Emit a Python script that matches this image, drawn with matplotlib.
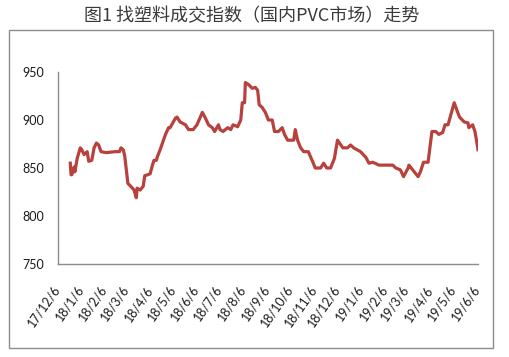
import matplotlib
matplotlib.use("Agg")
import matplotlib.pyplot as plt
import matplotlib.patches as patches
import matplotlib.transforms as mtransforms
import pandas as pd

plt.rcParams['font.family'] = ['Noto Sans CJK SC', 'DejaVu Sans']

# values (date, index)
dates = [
    "2017-12-22", "2017-12-23", "2017-12-24", "2017-12-27", "2017-12-28", "2017-12-31",
    "2018-01-04", "2018-01-06", "2018-01-09", "2018-01-13", "2018-01-15", "2018-01-19",
    "2018-01-22", "2018-01-25", "2018-01-28", "2018-01-31", "2018-02-07", "2018-02-18",
    "2018-02-24", "2018-02-26", "2018-03-01", "2018-03-03", "2018-03-05", "2018-03-07",
    "2018-03-13", "2018-03-15", "2018-03-18", "2018-03-19", "2018-03-23", "2018-03-27",
    "2018-03-29", "2018-04-02", "2018-04-05", "2018-04-08", "2018-04-10", "2018-04-13",
    "2018-04-15", "2018-04-18", "2018-04-21", "2018-04-25", "2018-04-29", "2018-05-01",
    "2018-05-08", "2018-05-10", "2018-05-14", "2018-05-21", "2018-05-25", "2018-05-31",
    "2018-06-05", "2018-06-12", "2018-06-16", "2018-06-20", "2018-06-25", "2018-06-28",
    "2018-07-03", "2018-07-05", "2018-07-09", "2018-07-15", "2018-07-19", "2018-07-22",
    "2018-07-28", "2018-08-01", "2018-08-03", "2018-08-06", "2018-08-07", "2018-08-11",
    "2018-08-16", "2018-08-20", "2018-08-23", "2018-08-25", "2018-08-29", "2018-09-02",
    "2018-09-06", "2018-09-11", "2018-09-14", "2018-09-19", "2018-09-24", "2018-09-27",
    "2018-10-01", "2018-10-09", "2018-10-11", "2018-10-14", "2018-10-18", "2018-10-22",
    "2018-10-28", "2018-11-03", "2018-11-06", "2018-11-13", "2018-11-17", "2018-11-21",
    "2018-11-26", "2018-12-01", "2018-12-05", "2018-12-12", "2018-12-18", "2018-12-22",
    "2018-12-26", "2019-01-04", "2019-01-11", "2019-01-15", "2019-01-20", "2019-01-28",
    "2019-02-15", "2019-02-19", "2019-02-25", "2019-03-01", "2019-03-07", "2019-03-08",
    "2019-03-13", "2019-03-20", "2019-03-23", "2019-03-27", "2019-04-02", "2019-04-07",
    "2019-04-12", "2019-04-16", "2019-04-21", "2019-04-24", "2019-04-28", "2019-05-06",
    "2019-05-11", "2019-05-13", "2019-05-19", "2019-05-24", "2019-05-25", "2019-05-30",
    "2019-06-02", "2019-06-04", "2019-06-06",
]
index = [
    855, 843, 843, 851, 846, 860,
    871, 869, 864, 867, 857, 858,
    871, 876, 874, 867, 866, 867,
    867, 871, 869, 862, 848, 834,
    829, 827, 819, 829, 827, 831,
    842, 843, 844, 853, 858, 858,
    863, 869, 876, 885, 892, 892,
    902, 903, 898, 895, 890, 890,
    895, 908, 902, 895, 892, 888,
    895, 890, 888, 892, 890, 895,
    893, 900, 918, 918, 939, 937,
    933, 934, 931, 916, 913, 908,
    900, 900, 888, 888, 892, 885,
    879, 879, 890, 879, 871, 867,
    867, 856, 850, 850, 855, 850,
    850, 860, 879, 871, 871, 874,
    871, 867, 861, 855, 856, 853,
    853, 850, 848, 841, 850, 853,
    848, 841, 846, 856, 856, 888,
    888, 885, 887, 895, 895, 918,
    907, 903, 898, 897, 892, 895,
    888, 879, 869,
]
yticks = [750, 800, 850, 900, 950]
title = "图1 找塑料成交指数（国内PVC市场）走势"

x = pd.to_datetime(dates)
ticks = pd.date_range("2017-12-06", periods=19, freq=pd.DateOffset(months=1))
tick_labels = [f"{d.year % 100}/{d.month}/{d.day}" for d in ticks]

fig = plt.figure(figsize=(5.1, 3.57), dpi=100)
ax = fig.add_axes([58 / 510, 1 - 264 / 357, 420 / 510, 192 / 357])

ax.plot(x, index, color="#B8413E", linewidth=2.3, solid_joinstyle="round")

ax.set_xlim(ticks[0], ticks[-1])
ax.set_ylim(750, 950)
ax.set_yticks(yticks)
ax.set_xticks(ticks)
ax.set_xticklabels(tick_labels, rotation=55, ha="right", rotation_mode="default")
ax.tick_params(axis="both", length=0, colors="#1a1a1a")
ax.tick_params(axis="y", pad=10)
ax.tick_params(axis="x", pad=14)
shift = mtransforms.ScaledTranslation(4 / 100, 0, fig.dpi_scale_trans)
for lab in ax.get_xticklabels():
    lab.set_fontfamily("Lato")
    lab.set_fontsize(9)
    lab.set_transform(lab.get_transform() + shift)
for lab in ax.get_yticklabels():
    lab.set_fontfamily("Lato")
    lab.set_fontsize(9)

for s in ["top", "right"]:
    ax.spines[s].set_visible(False)
for s in ["left", "bottom"]:
    ax.spines[s].set_color("#8c8c8c")
    ax.spines[s].set_linewidth(1)

# outer frame around chart area
fig.patches.append(patches.Rectangle((9 / 510, 1 - 348 / 357), 484 / 510, 318 / 357,
                                     transform=fig.transFigure, fill=False,
                                     edgecolor="#8c8c8c", linewidth=1))

fig.text(252 / 510, 1 - 16 / 357, title, ha="center", va="center",
         fontsize=13, color="#3a3a3a")

fig.savefig("out.png", dpi=100)
